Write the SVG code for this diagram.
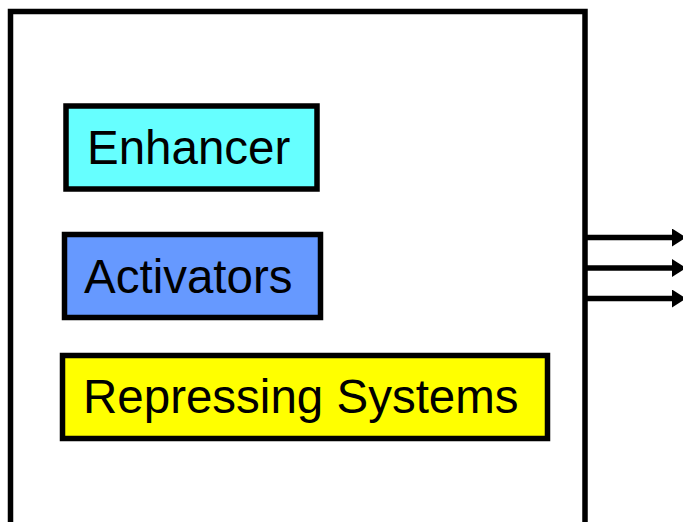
<svg xmlns="http://www.w3.org/2000/svg" width="683" height="522" viewBox="0 0 683 522">
<defs>
<style>
.box{stroke:#000;stroke-width:5.5}
.lbl{font-family:"Liberation Sans",Arial,sans-serif;font-size:47.5px;fill:#000}
.conn{stroke:#000;stroke-width:5.5;fill:none}
</style>
<marker id="ah" markerUnits="userSpaceOnUse" markerWidth="14" markerHeight="18" refX="0" refY="9" orient="auto">
<polygon points="0,0 14,9 0,18" fill="#000"/>
</marker>
</defs>
<rect width="683" height="522" fill="#fff"/>
<g id="container">
<rect x="10.5" y="11.5" width="574.5" height="530" fill="#fff" class="box"/>
</g>
<g id="enhancer">
<rect x="66" y="106" width="251" height="83" fill="#66FFFF" class="box"/>
<text x="87" y="163.5" class="lbl">Enhancer</text>
</g>
<g id="activators">
<rect x="64.5" y="234.5" width="256" height="83" fill="#6699FF" class="box"/>
<text x="84" y="293" class="lbl">Activators</text>
</g>
<g id="repressing">
<rect x="62.5" y="355.5" width="485" height="83" fill="#FFFF00" class="box"/>
<text x="83" y="413" class="lbl">Repressing Systems</text>
</g>
<g id="connectors">
<line x1="587" y1="237.5" x2="672" y2="237.5" class="conn" marker-end="url(#ah)"/>
<line x1="587" y1="268" x2="672" y2="268" class="conn" marker-end="url(#ah)"/>
<line x1="587" y1="298.5" x2="672" y2="298.5" class="conn" marker-end="url(#ah)"/>
</g>
</svg>
